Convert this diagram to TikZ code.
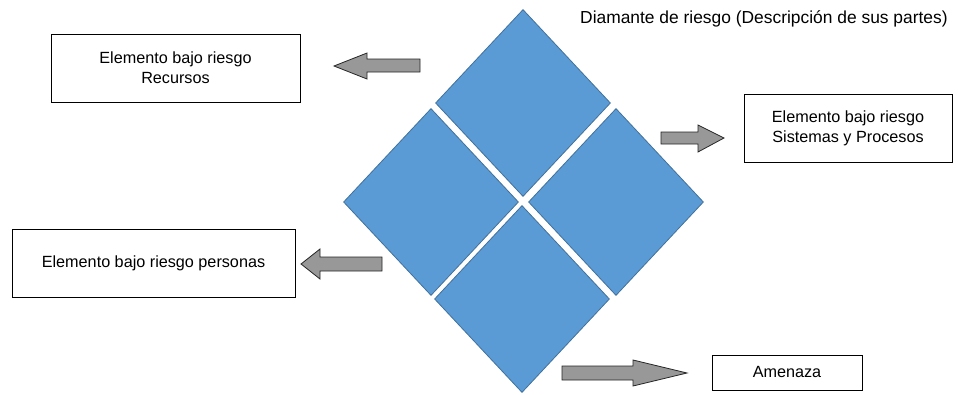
\documentclass[tikz,border=0pt]{standalone}
\usepackage{fontspec}
\setmainfont{Liberation Sans}
\usetikzlibrary{shapes.geometric}

\definecolor{piecefill}{RGB}{91,155,213}
\definecolor{pieceline}{RGB}{65,113,156}
\definecolor{arrowfill}{RGB}{152,152,152}

\begin{document}
\begin{tikzpicture}[x=1pt,y=-1pt,
		piece/.style={diamond,draw=pieceline,fill=piecefill,line width=0.8pt,inner sep=0pt,minimum width=175pt,minimum height=187pt},
		element/.style={rectangle,draw=black,line width=1pt,align=center,inner sep=0pt,font=\fontsize{16.2}{20}\selectfont},
		blockarrow/.style={draw=black!85,fill=arrowfill,line width=0.8pt,line join=miter}]
		\useasboundingbox (0,0) rectangle (962,394);
		% diamante
		\node[piece] (dtop) at (523,103) {};
		\node[piece] (dleft) at (431,202) {};
		\node[piece] (dright) at (616,202) {};
		\node[piece] (dbottom) at (522,299) {};
		\node[anchor=base west,inner sep=0pt,font=\fontsize{17.4}{20}\selectfont] (title) at (580,23) {Diamante de riesgo (Descripción de sus partes)};
		
		% elementos
		\node[element,minimum width=249pt,minimum height=68pt] (recursos) at (175.5,68) {Elemento bajo riesgo\\Recursos};
		\node[element,minimum width=208pt,minimum height=68pt] (sistemas) at (848,128) {Elemento bajo riesgo\\Sistemas y Procesos};
		\node[element,minimum width=283pt,minimum height=68pt] (personas) at (153.5,263) {Elemento bajo riesgo personas};
		\node[element,minimum width=150pt,minimum height=35pt] (amenaza) at (787,372.5) {Amenaza};
		
		% flechas
		\draw[blockarrow] (420,59) -- (367,59) -- (367,53) -- (334,66) -- (367,79) -- (367,72) -- (420,72) -- cycle;
		\draw[blockarrow] (661,132) -- (698,132) -- (698,125) -- (724,138) -- (698,152) -- (698,144) -- (661,144) -- cycle;
		\draw[blockarrow] (382,257) -- (320,257) -- (320,249) -- (301,264) -- (320,279) -- (320,271) -- (382,271) -- cycle;
		\draw[blockarrow] (562,366) -- (633,366) -- (633,360) -- (687,373) -- (633,386) -- (633,380) -- (562,380) -- cycle;
		
\end{tikzpicture}
\end{document}
